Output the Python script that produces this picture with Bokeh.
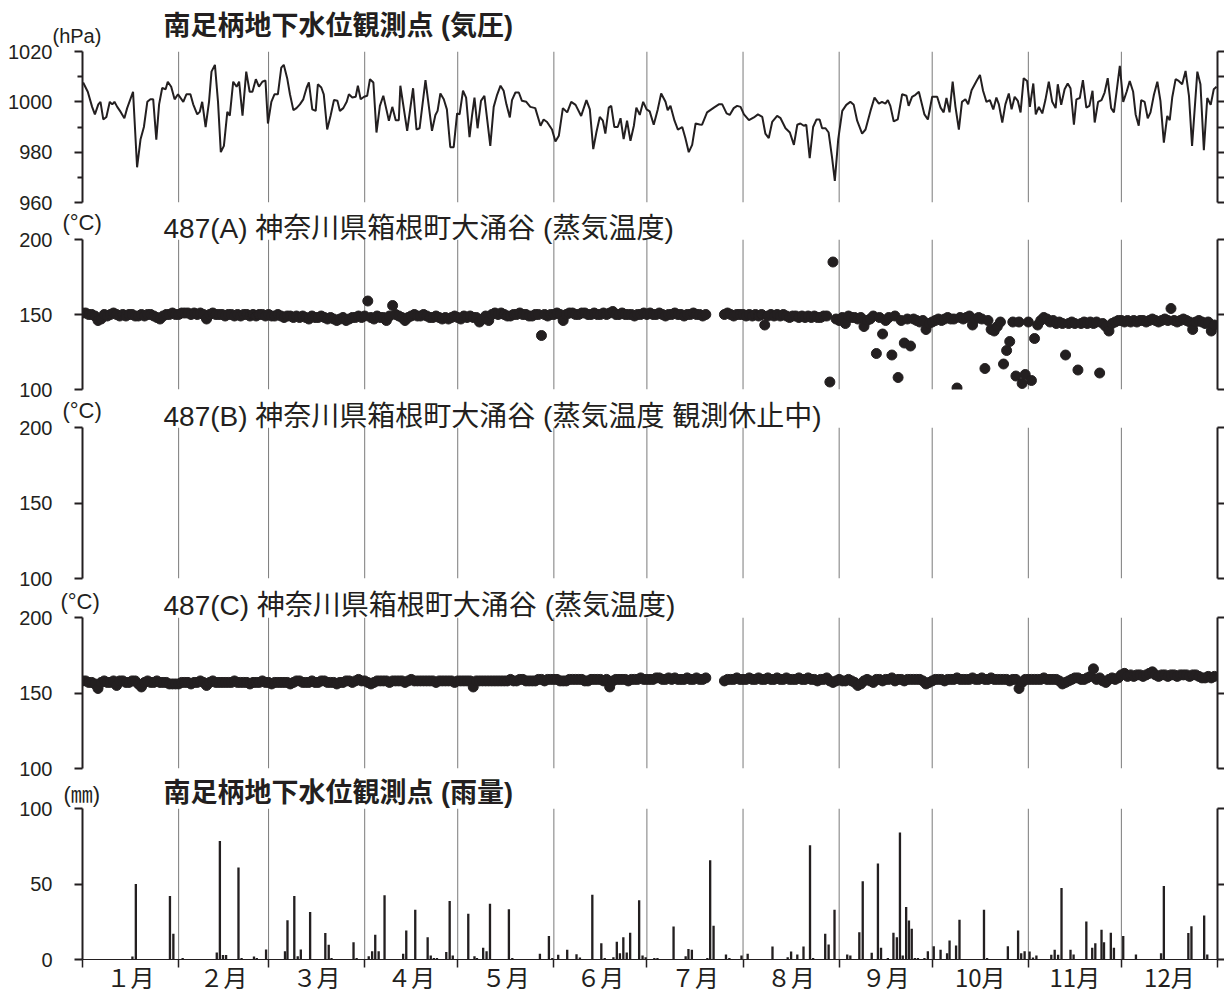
from bokeh.plotting import figure
from bokeh.models import Range1d, LinearAxis, FixedTicker, Span, Label
from bokeh.layouts import column
from bokeh.embed import file_html
from bokeh.resources import INLINE

INK = "#231f20"
NUM_FONT = "Liberation Sans"
JP_FONT = "Noto Sans CJK JP"
MIX_FONT = "Liberation Sans, Noto Sans CJK JP"

# ---------------- data ----------------
month_starts = [0, 31, 60, 91, 121, 152, 182, 213, 244, 274, 305, 335, 366]
month_labels = ["１月", "２月", "３月", "４月", "５月", "６月", "７月", "８月", "９月", "10月", "11月", "12月"]

panel_titles = [
    "南足柄地下水位観測点 (気圧)",
    "487(A) 神奈川県箱根町大涌谷 (蒸気温度)",
    "487(B) 神奈川県箱根町大涌谷 (蒸気温度 観測休止中)",
    "487(C) 神奈川県箱根町大涌谷 (蒸気温度)",
    "南足柄地下水位観測点 (雨量)",
]
unit_labels = ["(hPa)", "(°C)", "(°C)", "(°C)", "(㎜)"]

pressure_day = [
    0.2, 1.7, 3.1, 4.0, 5.1, 5.8, 6.7, 7.7, 8.8, 9.6, 10.3, 11.2, 12.3, 13.5, 14.4, 16.3, 17.6, 18.7, 19.8, 20.9,
    21.9, 22.8, 23.8, 24.7, 25.7, 26.8, 27.5, 28.6, 29.7, 30.8, 32.5, 33.5, 34.8, 35.7, 37.0, 37.8, 38.6, 39.7, 40.8, 41.6,
    42.7, 43.7, 44.6, 45.6, 46.7, 47.5, 48.6, 49.7, 50.5, 51.6, 52.8, 53.9, 54.8, 55.9, 56.9, 58.0, 59.0, 59.8, 60.9, 61.9,
    63.0, 64.1, 64.9, 66.0, 66.9, 68.0, 69.0, 70.1, 71.2, 72.3, 73.0, 74.1, 75.2, 75.9, 77.0, 77.8, 78.9, 80.0, 81.1, 82.2,
    83.0, 84.1, 85.2, 85.9, 87.0, 88.1, 88.8, 89.7, 90.8, 91.8, 92.7, 93.8, 94.8, 95.9, 97.0, 98.1, 98.8, 99.9, 101.0, 102.0,
    102.5, 104.7, 106.6, 107.7, 108.7, 110.6, 112.7, 113.8, 114.5, 115.4, 116.5, 117.5, 118.6, 119.7, 120.8, 121.6, 122.7, 123.7, 124.8, 125.6,
    126.4, 127.4, 128.5, 129.6, 131.5, 132.6, 133.7, 134.8, 135.8, 136.7, 137.8, 138.5, 139.6, 140.7, 141.7, 143.1, 144.4, 146.0, 147.7, 148.7,
    149.8, 151.4, 152.5, 153.6, 154.9, 156.3, 157.6, 159.0, 160.8, 162.5, 163.6, 164.7, 165.7, 166.8, 167.8, 168.6, 169.7, 170.5, 171.5, 172.6,
    173.5, 174.5, 175.6, 176.7, 177.8, 178.6, 179.7, 180.8, 181.9, 182.9, 184.2, 185.5, 186.6, 188.0, 188.7, 189.6, 190.9, 192.0, 193.4, 194.4,
    195.5, 196.6, 197.7, 199.0, 199.8, 201.4, 203.6, 205.2, 206.3, 207.7, 208.7, 210.0, 211.1, 212.2, 213.3, 214.9, 216.5, 217.8, 219.2, 220.2,
    221.3, 222.4, 224.0, 225.1, 226.7, 228.1, 229.4, 230.5,
    231.5, 232.6, 233.4, 234.5, 235.6, 236.7, 237.7, 238.5, 239.6, 240.6, 241.7, 242.6, 243.7, 245.0, 246.3, 247.6, 248.7, 249.8, 251.4, 252.5,
    254.1, 255.4, 256.8, 257.8, 258.9, 259.7, 260.5, 261.6, 262.9, 264.3, 265.7, 266.4, 267.5, 268.6, 269.7, 271.5, 272.6, 274.0, 275.6, 276.7,
    277.7, 278.6, 279.6, 280.6, 281.5, 282.6, 283.6, 284.7, 285.6, 286.7, 288.3, 289.4, 290.4, 291.5, 292.6, 293.7, 294.7, 295.5, 296.6, 297.6,
    298.7, 299.6, 300.6, 301.6, 302.5, 303.5, 304.6, 305.5, 306.6, 307.4, 308.4, 309.5, 310.5, 311.6, 312.7, 313.8, 314.5, 315.6, 316.7, 317.7,
    318.6, 319.7, 320.5, 321.6, 322.6, 323.7, 324.7, 325.7, 326.4, 327.5, 328.6, 329.6, 330.6, 331.7, 332.6, 333.6, 334.5, 335.6, 336.7, 337.7,
    338.8, 339.6, 340.6, 341.4, 342.5, 343.5, 344.4, 345.5, 346.6, 347.6, 348.7, 349.8, 350.6, 351.4, 352.5, 353.5, 354.6, 355.7, 356.8, 357.8,
    359.5, 360.5, 361.6, 362.7, 363.8, 364.8, 365.7,
]
pressure_hpa = [
    1007.7, 1004, 998, 995, 999, 1000, 993, 994, 1000, 999, 1000, 998, 996, 993.5, 997.5, 1004, 974, 985, 990, 1000,
    1001, 1001, 985, 999, 1005.5, 1005, 1008, 1006, 1001, 1003, 1000, 1003, 1003, 999, 995, 996, 1000, 990, 1000, 1012,
    1014.7, 1000, 980, 982.5, 996, 994.5, 1008, 1006, 1008, 994.5, 1012, 1004, 1004, 1009, 1006, 1008, 1008.5, 991.4, 1000, 1003,
    1003, 1013.6, 1014.7, 1009.4, 1003, 996.7, 997.5, 999, 1001, 1005.7, 1007.7, 997, 996.4, 1007, 1005.7, 1003, 989, 994.5, 1000.7, 1000.4,
    996.4, 997.5, 1000, 1003, 1001.7, 1002, 1006.4, 1001, 1002, 1002.4, 1009, 1007.7, 987.8, 998.4, 1002.4, 996.4, 992.5, 998, 992.7, 992.7,
    1006.4, 988.5, 1005.4, 989, 989.5, 1008.6, 988.5, 994.8, 996.4, 1003.3, 1001, 997, 982, 982, 995.4, 995, 1004.4, 1001.7, 986, 994.4,
    1001.7, 989.5, 1000.4, 1002.4, 982.5, 998, 1002.8, 1006.4, 1004.4, 999, 993.8, 1000.7, 1003.7, 1003.7, 1000.4, 1000, 998, 997.5, 990.5, 993,
    992, 989, 984.2, 986.5, 997.5, 995.8, 1000, 998.8, 994.4, 1000.7, 997, 981.2, 987.8, 994, 992.5, 987.4, 997.7, 998.4, 990, 990,
    993.5, 985.2, 992.5, 984.5, 990.5, 997.7, 994.8, 1000, 997, 996.2, 990.9, 997, 1003.3, 1000, 996.7, 998.4, 992.5, 989, 990, 985.6,
    980, 982.9, 991.4, 991, 990.9, 995.8, 997.7, 999, 999, 995.4, 994.8, 997.5, 998.4, 998, 995, 992.7, 993.8, 995, 994, 987.4,
    985.6, 992, 994.4, 993.5, 989.5, 987.8, 982.9, 990.9,
    991.4, 990.5, 990.9, 977.6, 990, 993, 993, 989.5, 989.5, 987.8, 977.9, 968.6, 985.2, 996.4, 998.8, 1000, 998.8, 992.5, 987.4, 989,
    996.4, 1001.7, 999.3, 1000, 999.3, 1000.7, 998.4, 992.2, 993, 1003, 1002.4, 998.4, 1002, 1002.8, 1004, 995, 993, 1002, 1002, 997.7,
    995.8, 1001.5, 995.8, 1008, 998, 989, 1000, 1001, 999, 1004.6, 1008.3, 1010.7, 1004.4, 1000, 1000.7, 997, 1001.7, 999, 991.8, 999,
    1003.3, 997, 1002, 1000.4, 995.8, 1009.4, 1008.3, 998, 1007.3, 995, 998, 995.4, 1000.7, 1008, 1000, 997.5, 1007, 998.8, 1005, 1007.3,
    1005.4, 990.9, 1001, 1001.5, 1008.6, 997.7, 998.4, 1004.4, 991.8, 1000, 1000.7, 1003.7, 1009.4, 997.5, 995.8, 1005.4, 1014.3, 1000, 1004, 1008.3,
    1004, 995, 990.5, 1000.7, 1000, 993.5, 995.8, 1002.8, 1008, 1000.4, 983.8, 994.4, 992.7, 1001.7, 1009, 1008.3, 1007, 1012.3, 1002.4, 982.5,
    1012, 1007, 980.8, 1001.5, 998.8, 1005, 1006,
]

N = None
temp_a = (
    [151, 151, 150, 150, 149, 146, 147, 150, 149, 150, 151, 150, 149, 150, 149, 150, 150, 149, 149, 150, 149, 150, 150, 149, 148, 147, 149, 150, 150, 151, 150]
    + [150, 151, 151, 151, 150, 151, 150, 151, 150, 147, 150, 151, 150, 150, 150, 149, 150, 150, 149, 150, 149, 150, 150, 149, 150, 149, 150, 150, 149]
    + [150, 149, 149, 150, 149, 148, 149, 149, 148, 149, 148, 149, 148, 147, 149, 148, 148, 149, 148, 147, 148, 147, 146, 147, 148, 146, 147, 148, 148, 149, 148]
    + [149, 159, 148, 147, 149, 148, 148, 146, 149, 156, 150, 149, 148, 146, 148, 149, 150, 149, 149, 150, 149, 148, 148, 149, 148, 147, 148, 147, 148, 149]
    + [148, 147, 149, 148, 149, 148, 148, 145, 147, 149, 146, 150, 151, 150, 151, 150, 149, 149, 150, 150, 151, 150, 150, 149, 149, 150, 150, 136, 150, 149, 150]
    + [150, 151, 150, 146, 150, 151, 151, 150, 150, 151, 151, 150, 150, 151, 150, 150, 151, 150, 151, 152, 150, 150, 151, 150, 150, 150, 149, 150, 150, 151]
    + [150, 151, 150, 150, 151, 150, 149, 150, 150, 151, 150, 150, 149, 150, 150, 151, 150, 150, 149, 150, N, N, N, N, N, 150, 151, 150, 149, 150, 150]
    + [150, 149, 150, 149, 150, 149, 150, 143, 149, 150, 149, 150, 149, 150, 149, 148, 149, 149, 148, 149, 148, 149, 148, 149, 148, 148, 149, 149, 105, 185, 147]
    + [146, 148, 144, 149, 148, 148, 147, 148, 142, 146, 147, 149, 124, 148, 137, 146, 148, 123, 149, 108, 146, 131, 147, 129, 147, 146, 145, 146, 140, 144]
    + [145, 146, 147, 146, 147, 148, 147, 147, 101, 148, 147, 148, 149, 143, 147, 148, 147, 114, 146, 140, 139, 142, 145, 117, 126, 132, 145, 109, 145, 104, 110]
    + [145, 106, 134, 143, 146, 148, 147, 145, 146, 144, 145, 144, 123, 144, 145, 144, 113, 144, 145, 144, 145, 144, 145, 111, 144, 142, 139, 144, 145, 146]
    + [146, 145, 146, 145, 146, 145, 146, 146, 145, 146, 147, 146, 145, 146, 147, 146, 154, 146, 145, 146, 147, 146, 145, 140, 145, 146, 145, 144, 145, 139, 143]
)
temp_c = (
    [158, 158, 157, 157, 156, 153, 157, 158, 157, 157, 158, 155, 158, 158, 157, 157, 158, 158, 156, 154, 157, 158, 157, 157, 158, 157, 157, 157, 156, 156, 156]
    + [156, 157, 157, 157, 156, 157, 157, 158, 157, 155, 157, 158, 157, 157, 157, 157, 157, 157, 158, 157, 157, 157, 157, 156, 157, 157, 157, 158, 157]
    + [157, 156, 157, 157, 157, 157, 157, 156, 157, 158, 158, 157, 157, 157, 158, 157, 157, 158, 158, 157, 157, 157, 156, 157, 157, 158, 158, 157, 158, 159, 158]
    + [158, 157, 156, 157, 158, 158, 158, 158, 157, 158, 158, 158, 158, 157, 158, 159, 158, 158, 158, 158, 158, 158, 158, 157, 158, 158, 158, 158, 158, 157]
    + [158, 158, 158, 158, 158, 154, 158, 158, 158, 158, 158, 158, 158, 158, 158, 158, 158, 159, 158, 158, 159, 159, 158, 158, 158, 158, 159, 159, 158, 159, 159]
    + [159, 159, 158, 158, 158, 159, 159, 159, 159, 159, 158, 158, 159, 159, 159, 159, 158, 159, 154, 158, 159, 159, 159, 159, 158, 159, 159, 159, 160, 159]
    + [159, 159, 159, 160, 160, 159, 159, 160, 159, 160, 159, 159, 159, 160, 159, 159, 160, 159, 159, 160, N, N, N, N, N, 158, 159, 159, 159, 160, 159]
    + [159, 159, 160, 159, 159, 160, 159, 159, 160, 159, 159, 160, 159, 159, 160, 159, 159, 159, 160, 159, 159, 160, 159, 159, 158, 159, 159, 160, 158, 157, 158]
    + [159, 158, 158, 159, 158, 157, 155, 156, 158, 159, 158, 157, 159, 159, 158, 159, 159, 160, 158, 159, 159, 158, 159, 159, 159, 159, 159, 158, 156, 157]
    + [158, 159, 159, 159, 158, 159, 159, 159, 160, 159, 159, 159, 159, 160, 159, 159, 160, 159, 159, 160, 159, 159, 159, 159, 159, 158, 159, 159, 153, 157, 159]
    + [159, 159, 159, 159, 159, 160, 159, 159, 159, 159, 158, 156, 157, 158, 159, 160, 160, 159, 159, 160, 161, 166, 159, 160, 158, 157, 159, 160, 159, 160]
    + [162, 163, 161, 162, 161, 162, 162, 161, 162, 163, 164, 162, 161, 162, 162, 161, 162, 162, 161, 162, 162, 162, 161, 162, 162, 161, 160, 160, 161, 160, 161]
)

rain_day = [
    16.1, 17.2, 28.2, 29.3, 32.3, 43.3, 44.3, 45.3, 46.3, 50.3, 51.3, 55.3, 56.2, 59.2, 65.3, 66.1, 68.3, 69.4, 70.4, 73.4,
    78.3, 79.4, 80.3, 87.4, 88.4, 92.3, 93.4, 94.4, 95.5, 97.4, 103.4, 104.4, 107.3, 111.3, 112.3, 113.3, 114.3, 117.3, 118.4, 119.4,
    124.4, 126.4, 127.2, 129.2, 130.3, 131.4, 137.5, 138.6, 147.5, 150.4, 151.5, 153.4, 156.3, 159.3, 160.4, 164.4, 167.3, 168.4, 171.2, 172.3,
    173.3, 174.4, 175.5, 176.6, 179.5, 180.6, 181.6, 184.4, 185.4, 190.6, 194.5, 195.4, 196.5, 201.5, 202.4, 203.5, 207.5, 208.6, 212.5, 214.5,
    222.5, 227.4, 228.5, 230.5, 232.5, 234.6, 235.6, 239.5, 240.6, 242.5, 246.6, 247.6, 250.5, 251.6, 254.5, 256.5, 257.5, 259.7, 261.5, 262.6,
    263.6, 264.5, 265.6, 266.5, 267.4, 268.4, 269.4, 271.5, 272.6, 274.5, 276.7, 278.8, 279.6, 281.7, 282.8, 290.7, 291.7, 298.4, 301.7, 302.7,
    303.8, 305.4, 306.5, 307.6, 312.4, 313.5, 314.6, 315.7, 318.6, 319.6, 323.7, 325.6, 326.6, 328.6, 329.4, 331.6, 332.6, 335.6, 339.7, 347.8,
    348.7, 356.6, 357.6, 361.7, 362.7,
]
rain_mm = [
    2, 50, 42, 17, 1, 4.6, 78.5, 3, 3, 61, 1, 2, 1, 6.6, 5.5, 26, 42, 2.2, 6.6, 31.4,
    17.5, 9.7, 1, 11.5, 1, 2.2, 5.5, 16.4, 5.5, 42.5, 3.8, 19.2, 33, 14.8, 2.7, 1, 1, 4.9, 38.7, 2.7,
    30.3, 2.2, 1, 7.7, 5.5, 37, 33.2, 1, 3.8, 15.5, 1, 3.1, 6.4, 3.5, 1.3, 42.9, 10.8, 1, 1.5, 11.7,
    4.2, 14.8, 4.6, 17.7, 39.2, 2.7, 1.5, 1, 1, 21.9, 2.2, 7, 6.4, 1, 65.7, 22.3, 3.3, 1, 2.7, 3.8,
    8.6, 1.5, 5.3, 3.3, 8.6, 75.7, 1, 17, 10, 33, 3.3, 2.7, 18, 51.8, 4.4, 63.5, 7.7, 1, 17.7, 14.8,
    84.1, 2.7, 34.7, 25.9, 20.4, 1, 1, 1, 5.5, 8.8, 6.4, 4.2, 12.6, 9.3, 26.3, 33, 1, 8.8, 19.2, 4.2,
    5.5, 5.3, 1.3, 2.7, 3.1, 6.4, 3.1, 47.3, 6.4, 3.3, 25.2, 7.7, 10.8, 19.7, 11.5, 17.7, 7.7, 15.5, 3.3, 4.2,
    48.7, 17.5, 22.1, 29.2, 3.3,
]

# ---------------- helpers ----------------
FW = 1135


def style_axis(ax, tick_out=8, minor_out=5, label_size="20px", standoff=22):
    ax.axis_line_color = INK
    ax.axis_line_width = 2
    ax.major_tick_line_color = INK
    ax.major_tick_line_width = 2
    ax.major_tick_out = tick_out
    ax.major_tick_in = 0
    ax.minor_tick_line_color = INK
    ax.minor_tick_line_width = 2
    ax.minor_tick_out = minor_out
    ax.minor_tick_in = 0
    ax.major_label_text_font = NUM_FONT
    ax.major_label_text_font_size = label_size
    ax.major_label_text_color = INK
    ax.major_label_standoff = standoff


def panel(y0, y1, ticks, minor, right_ticks, top, bottom, fh=151):
    p = figure(frame_width=FW, frame_height=fh, x_range=Range1d(0, 366), y_range=Range1d(y0, y1),
               x_axis_type=None, y_axis_type=None, output_backend="svg", toolbar_location=None,
               min_border_left=82, min_border_right=7, min_border_top=top, min_border_bottom=bottom)
    p.outline_line_color = None
    p.background_fill_color = "white"
    p.border_fill_color = "white"
    ax = LinearAxis(ticker=FixedTicker(ticks=ticks, minor_ticks=minor))
    style_axis(ax)
    p.add_layout(ax, "left")
    axr = LinearAxis(ticker=FixedTicker(ticks=right_ticks, minor_ticks=[]),
                     major_label_overrides={t: "" for t in right_ticks})
    style_axis(axr, tick_out=7, label_size="1px", standoff=0)
    p.add_layout(axr, "right")
    for m in month_starts[1:-1]:
        p.add_layout(Span(location=m, dimension="height", line_color="#7a7a7a", line_width=1, level="underlay"))
    return p


# ---------------- panel 1: pressure ----------------
p1 = panel(960, 1020, [960, 980, 1000, 1020], [970, 990, 1010], [960, 970, 980, 990, 1000, 1010, 1020], 51, 18)
p1.line(pressure_day, pressure_hpa, line_color=INK, line_width=2)

# ---------------- panel 2: temp A ----------------
days_a = [d for d, v in enumerate(temp_a) if v is not None]
vals_a = [v for v in temp_a if v is not None]
p2 = panel(100, 200, [100, 150, 200], [], [100, 150, 200], 19, 19, fh=150)
p2.scatter(days_a, vals_a, size=10, fill_color=INK, line_color=INK)

# ---------------- panel 3: temp B (suspended) ----------------
p3 = panel(100, 200, [100, 150, 200], [], [100, 150, 200], 19, 19)

# ---------------- panel 4: temp C ----------------
days_c = [d for d, v in enumerate(temp_c) if v is not None]
vals_c = [v for v in temp_c if v is not None]
p4 = panel(100, 200, [100, 150, 200], [], [100, 150, 200], 20, 20)
p4.scatter(days_c, vals_c, size=10, fill_color=INK, line_color=INK)

# ---------------- panel 5: rain ----------------
p5 = panel(0, 100, [0, 50, 100], [], [0, 50, 100], 20, 35)
p5.vbar(x=rain_day, top=rain_mm, bottom=0, width=0.75, fill_color=INK, line_color=None)
month_mid = [(month_starts[i] + month_starts[i + 1]) / 2 for i in range(12)]
xa = LinearAxis(ticker=FixedTicker(ticks=month_mid, minor_ticks=month_starts),
                major_label_overrides={m: lab for m, lab in zip(month_mid, month_labels)})
xa.axis_line_color = INK
xa.axis_line_width = 1
xa.major_tick_out = 0
xa.major_tick_in = 0
xa.minor_tick_out = 8
xa.minor_tick_in = 0
xa.minor_tick_line_color = INK
xa.minor_tick_line_width = 1.5
xa.major_label_text_font = JP_FONT
xa.major_label_text_font_size = "24px"
xa.major_label_text_color = INK
xa.major_label_standoff = -9
p5.add_layout(xa, "below")

layout = column(p1, p2, p3, p4, p5, spacing=0)

# ---------------- text overlay (page pixel coordinates, y downward) ----------------
ov = figure(width=1224, height=994, x_range=Range1d(0, 1224), y_range=Range1d(994, 0),
            x_axis_type=None, y_axis_type=None, output_backend="svg", toolbar_location=None,
            min_border=0, styles={"position": "absolute", "left": "0px", "top": "0px"})
ov.outline_line_color = None
ov.background_fill_color = None
ov.border_fill_color = None

title_pos = [(163, 25), (163, 228), (163, 416), (163, 605), (163, 792)]
title_bold = [True, False, False, False, True]
title_size = ["27px", "28px", "28px", "28px", "27px"]
unit_pos = [(52, 35), (62, 222), (62, 410), (60, 601), (63, 794)]
unit_size = ["20px", "22px", "22px", "22px", "22px"]

for (tx, ty), txt, b, s in zip(title_pos, panel_titles, title_bold, title_size):
    ov.add_layout(Label(x=tx, y=ty, text=txt, text_font=MIX_FONT, text_font_size=s,
                        text_font_style="bold" if b else "normal", text_color=INK,
                        text_baseline="middle", text_align="left"))
for (ux, uy), txt, s in zip(unit_pos, unit_labels, unit_size):
    ov.add_layout(Label(x=ux, y=uy, text=txt, text_font=MIX_FONT, text_font_size=s, text_color=INK,
                        text_baseline="middle", text_align="left"))

open("out.html", "w").write(file_html([layout, ov], INLINE))
